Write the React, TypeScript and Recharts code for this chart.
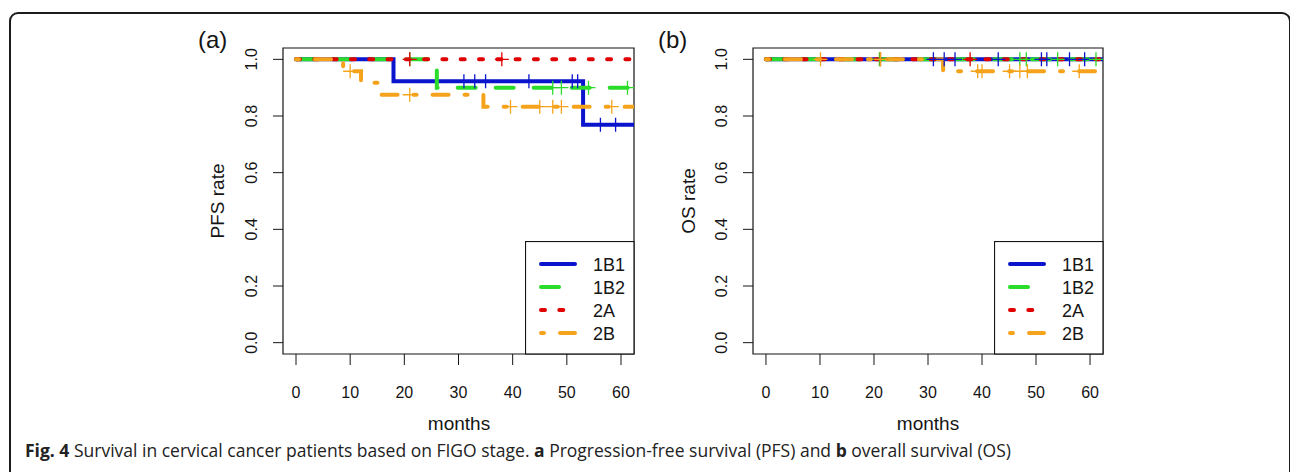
import React from "react";
import {
  ComposedChart,
  Line,
  Scatter,
  XAxis,
  YAxis,
  ReferenceArea,
  Legend,
} from "recharts";

const months = [0, 10, 20, 30, 40, 50, 60];
const rateTicks = [0, 0.2, 0.4, 0.6, 0.8, 1];
const stages = ["1B1", "1B2", "2A", "2B"];

// (a) progression-free survival: step times, survival rate after each step, censored times
const pfs1B1Time = [0, 18, 53, 62.2];
const pfs1B1Rate = [1, 0.923, 0.769, 0.769];
const pfs1B1Censor = [31, 33, 35, 43, 51, 52, 56.2, 59];

const pfs1B2Time = [0, 26, 61.3];
const pfs1B2Rate = [1, 0.9, 0.9];
const pfs1B2Censor = [21, 47.4, 49, 54, 61.2];

const pfs2ATime = [0, 62.4];
const pfs2ARate = [1, 1];
const pfs2ACensor = [21, 38];

const pfs2BTime = [0, 8.7, 12, 15.5, 34.6, 62.2];
const pfs2BRate = [1, 0.958, 0.917, 0.875, 0.833, 0.833];
const pfs2BCensor = [10, 21, 39.6, 45, 47.4, 49, 58.3];

// (b) overall survival
const os1B1Time = [0, 62.4];
const os1B1Rate = [1, 1];
const os1B1Censor = [31, 33, 35, 43, 51, 52, 56.2, 59];

const os1B2Time = [0, 61.2];
const os1B2Rate = [1, 1];
const os1B2Censor = [21, 47, 48.2, 54, 61.1];

const os2ATime = [0, 62.4];
const os2ARate = [1, 1];
const os2ACensor = [21.2, 37.8];

const os2BTime = [0, 32.8, 62.2];
const os2BRate = [1, 0.958, 0.958];
const os2BCensor = [10.1, 21.2, 39.2, 40, 45.1, 47, 48.4, 58];

const INK = "#151515";
const FONT = "'Liberation Sans', Arial, sans-serif";

const stageColor: Record<string, string> = {
  "1B1": "#0a14cc",
  "1B2": "#2bdc2b",
  "2A": "#e00000",
  "2B": "#f6a31c",
};
const stageDash: Record<string, string | undefined> = {
  "1B1": undefined,
  "1B2": "18 20",
  "2A": "4 14.3",
  "2B": "3 16 16 16",
};

type Series = { name: string; time: number[]; rate: number[]; censor: number[] };

const pfsSeries: Series[] = [
  { name: stages[0], time: pfs1B1Time, rate: pfs1B1Rate, censor: pfs1B1Censor },
  { name: stages[1], time: pfs1B2Time, rate: pfs1B2Rate, censor: pfs1B2Censor },
  { name: stages[2], time: pfs2ATime, rate: pfs2ARate, censor: pfs2ACensor },
  { name: stages[3], time: pfs2BTime, rate: pfs2BRate, censor: pfs2BCensor },
];
const osSeries: Series[] = [
  { name: stages[0], time: os1B1Time, rate: os1B1Rate, censor: os1B1Censor },
  { name: stages[1], time: os1B2Time, rate: os1B2Rate, censor: os1B2Censor },
  { name: stages[2], time: os2ATime, rate: os2ARate, censor: os2ACensor },
  { name: stages[3], time: os2BTime, rate: os2BRate, censor: os2BCensor },
];

const steps = (time: number[], rate: number[]) => time.map((t, i) => ({ t, s: rate[i] }));

// rate of the step curve at time t (censor marks sit on the curve)
const levelAt = (time: number[], rate: number[], t: number) => {
  let s = rate[0];
  time.forEach((tt, i) => {
    if (tt <= t) s = rate[i];
  });
  return s;
};
const marks = (sr: Series) => sr.censor.map((t) => ({ t, s: levelAt(sr.time, sr.rate, t) }));

const RateTick = ({ x, y, payload }: any) => (
  <text
    transform={`translate(${x - 16},${y}) rotate(-90)`}
    textAnchor="middle"
    fontSize={16}
    fontFamily={FONT}
    fill={INK}
  >
    {Number(payload.value).toFixed(1)}
  </text>
);

const cross = (color: string) => (p: any) => (
  <path
    d={`M${p.cx - 7},${p.cy}h14M${p.cx},${p.cy - 7}v14`}
    stroke={color}
    strokeWidth={1.3}
    fill="none"
  />
);

const LegendBox = () => (
  <svg width={110} height={114} style={{ display: "block" }}>
    <rect x={0.5} y={0.5} width={108.5} height={112.5} fill="#fff" stroke={INK} strokeWidth={1.2} />
    {stages.map((name, i) => {
      const y = 23 + i * 23;
      return (
        <g key={name}>
          <line
            x1={16}
            x2={50}
            y1={y}
            y2={y}
            stroke={stageColor[name]}
            strokeWidth={4}
            strokeDasharray={stageDash[name]}
            strokeLinecap="round"
          />
          <text x={68} y={y + 6.5} fontSize={18} fontFamily={FONT} fill={INK}>
            {name}
          </text>
        </g>
      );
    })}
  </svg>
);

function Panel({
  left,
  axisWidth,
  marginRight,
  series,
}: {
  left: number;
  axisWidth: number;
  marginRight: number;
  series: Series[];
}) {
  const legendLeft = 470 - marginRight - 109;
  return (
    <div style={{ position: "absolute", left, top: 30 }}>
      <ComposedChart
        width={470}
        height={400}
        margin={{ top: 18, right: marginRight, bottom: 0, left: 0 }}
      >
        <XAxis
          dataKey="t"
          type="number"
          domain={[-2.4, 62.4]}
          ticks={months}
          interval={0}
          allowDataOverflow
          axisLine={false}
          tickLine={{ stroke: INK }}
          tickSize={11}
          tickMargin={22}
          tick={{ fill: INK, fontSize: 16, fontFamily: FONT }}
          height={76}
        />
        <YAxis
          type="number"
          domain={[-0.04, 1.04]}
          ticks={rateTicks}
          interval={0}
          allowDataOverflow
          axisLine={false}
          tickLine={{ stroke: INK }}
          tickSize={10}
          tickMargin={0}
          tick={<RateTick />}
          width={axisWidth}
        />
        <ReferenceArea
          x1={-2.4}
          x2={62.4}
          y1={-0.04}
          y2={1.04}
          fill="none"
          fillOpacity={0}
          stroke={INK}
          strokeWidth={1.2}
        />
        {series.map((sr) => (
          <Line
            key={sr.name}
            name={sr.name}
            data={steps(sr.time, sr.rate)}
            dataKey="s"
            type="stepAfter"
            stroke={stageColor[sr.name]}
            strokeWidth={4}
            strokeDasharray={stageDash[sr.name]}
            strokeLinecap="round"
            dot={false}
            activeDot={false}
            isAnimationActive={false}
          />
        ))}
        {series.map((sr) => (
          <Scatter
            key={sr.name + "-censor"}
            data={marks(sr)}
            dataKey="s"
            legendType="none"
            shape={cross(stageColor[sr.name])}
            isAnimationActive={false}
          />
        ))}
        <Legend
          layout="vertical"
          align="center"
          verticalAlign="middle"
          wrapperStyle={{ left: legendLeft, top: 211, width: 110, height: 114 }}
          content={() => <LegendBox />}
        />
      </ComposedChart>
    </div>
  );
}

export default function App() {
  return (
    <div
      style={{
        position: "absolute",
        left: 0,
        top: 0,
        width: 1290,
        height: 472,
        overflow: "hidden",
        background: "#fff",
      }}
    >
      <div
        style={{
          position: "absolute",
          left: 9,
          top: 12,
          width: 1282,
          height: 480,
          border: "2px solid #1c1c1c",
          borderRadius: 9,
          boxSizing: "border-box",
        }}
      />
      <Panel left={180} axisWidth={103} marginRight={16} series={pfsSeries} />
      <Panel left={640} axisWidth={113} marginRight={7} series={osSeries} />
      <svg
        width={1290}
        height={472}
        style={{ position: "absolute", left: 0, top: 0, pointerEvents: "none" }}
      >
        <g fontFamily={FONT} fill={INK}>
          <text x={198} y={48} fontSize={24}>(a)</text>
          <text x={658} y={48} fontSize={24}>(b)</text>
          <text transform="translate(224,201) rotate(-90)" textAnchor="middle" fontSize={19}>
            PFS rate
          </text>
          <text transform="translate(694.5,201) rotate(-90)" textAnchor="middle" fontSize={19}>
            OS rate
          </text>
          <text x={459} y={430} textAnchor="middle" fontSize={19}>months</text>
          <text x={928} y={430} textAnchor="middle" fontSize={19}>months</text>
        </g>
        <text x={25} y={457} fontSize={17.5} fontFamily="'Open Sans', 'Noto Sans', sans-serif" fill="#222">
          <tspan fontWeight={700}>Fig. 4</tspan> Survival in cervical cancer patients based on FIGO
          stage. <tspan fontWeight={700}>a</tspan> Progression-free survival (PFS) and{" "}
          <tspan fontWeight={700}>b</tspan> overall survival (OS)
        </text>
      </svg>
    </div>
  );
}
